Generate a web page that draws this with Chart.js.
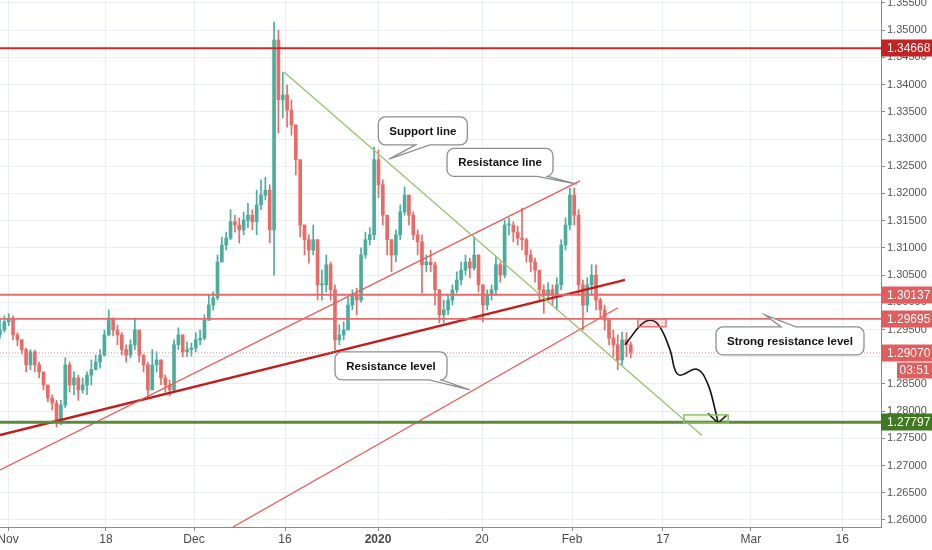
<!DOCTYPE html>
<html>
<head>
<meta charset="utf-8">
<script src="https://cdn.jsdelivr.net/npm/chart.js@4/dist/chart.umd.min.js"></script>
<style>
  html, body { margin: 0; padding: 0; background: #ffffff; }
  canvas { display: block; }
</style>
</head>
<body>
<canvas id="GBP_Chart" width="932" height="550"></canvas>
<script>
// GBPUSD, 12h bars, x = trading days from left edge
const barStep = 0.5;
const firstOpen = 1.2940;

const closes = [
	1.2949, 1.2964, 1.2971, 1.2940, 1.2931, 1.2913, 1.2885, 1.2909, 1.2885, 1.2872,
	1.2848, 1.2824, 1.2815, 1.2784, 1.2811, 1.2885, 1.2848, 1.2861, 1.2839, 1.2848,
	1.2866, 1.2876, 1.2890, 1.2903, 1.2940, 1.2971, 1.2949, 1.2940, 1.2913, 1.2903,
	1.2922, 1.2949, 1.2903, 1.2885, 1.2839, 1.2885, 1.2894, 1.2861, 1.2848, 1.2839,
	1.2922, 1.2940, 1.2909, 1.2913, 1.2916, 1.2931, 1.2934, 1.2967, 1.2995, 1.3008,
	1.3074, 1.3105, 1.3118, 1.3148, 1.3142, 1.3133, 1.3151, 1.3160, 1.3148, 1.3179,
	1.3197, 1.3206, 1.3133, 1.3482, 1.3372, 1.3381, 1.3353, 1.3326, 1.3262, 1.3142,
	1.3115, 1.3096, 1.3115, 1.3032, 1.3032, 1.3069, 1.3023, 1.2931, 1.2940, 1.2949,
	1.2995, 1.3013, 1.3004, 1.3087, 1.3115, 1.3124, 1.3262, 1.3216, 1.3160, 1.3115,
	1.3087, 1.3124, 1.3166, 1.3197, 1.3160, 1.3124, 1.3111, 1.3069, 1.3074, 1.3069,
	1.3023, 1.2977, 1.2986, 1.3004, 1.3023, 1.3041, 1.3059, 1.3074, 1.3063, 1.3087,
	1.3032, 1.2995, 1.3013, 1.3023, 1.3069, 1.3050, 1.3142, 1.3142, 1.3129, 1.3118,
	1.3115, 1.3087, 1.3074, 1.3059, 1.3023, 1.3013, 1.3023, 1.3013, 1.3032, 1.3105,
	1.3142, 1.3197, 1.3160, 1.3032, 1.2995, 1.3032, 1.3050, 1.3004, 1.2986, 1.2967,
	1.2934, 1.2922, 1.2894, 1.2931, 1.2922, 1.2907
];

const highs = [
	1.2971, 1.2975, 1.2979, 1.2975, 1.2944, 1.2931, 1.2916, 1.2913, 1.2912, 1.2890,
	1.2872, 1.2848, 1.2830, 1.2820, 1.2820, 1.2898, 1.2890, 1.2872, 1.2866, 1.2861,
	1.2872, 1.2894, 1.2903, 1.2913, 1.2949, 1.2986, 1.2971, 1.2958, 1.2944, 1.2922,
	1.2931, 1.2971, 1.2949, 1.2903, 1.2890, 1.2913, 1.2909, 1.2894, 1.2866, 1.2857,
	1.2931, 1.2953, 1.2940, 1.2927, 1.2925, 1.2944, 1.2949, 1.2977, 1.3013, 1.3019,
	1.3087, 1.3120, 1.3129, 1.3170, 1.3160, 1.3155, 1.3166, 1.3182, 1.3170, 1.3206,
	1.3225, 1.3230, 1.3216, 1.3515, 1.3500, 1.3423, 1.3399, 1.3372, 1.3326, 1.3262,
	1.3142, 1.3124, 1.3142, 1.3115, 1.3059, 1.3087, 1.3074, 1.3032, 1.2958, 1.2964,
	1.3008, 1.3023, 1.3026, 1.3100, 1.3129, 1.3137, 1.3285, 1.3280, 1.3225, 1.3160,
	1.3115, 1.3133, 1.3179, 1.3212, 1.3197, 1.3166, 1.3133, 1.3124, 1.3087, 1.3096,
	1.3074, 1.3023, 1.3004, 1.3013, 1.3032, 1.3056, 1.3074, 1.3087, 1.3081, 1.3120,
	1.3087, 1.3032, 1.3023, 1.3032, 1.3083, 1.3074, 1.3151, 1.3155, 1.3148, 1.3140,
	1.3173, 1.3118, 1.3096, 1.3081, 1.3059, 1.3032, 1.3036, 1.3032, 1.3045, 1.3115,
	1.3155, 1.3210, 1.3210, 1.3170, 1.3041, 1.3045, 1.3069, 1.3069, 1.3008, 1.2995,
	1.2971, 1.2949, 1.2940, 1.2945, 1.2944, 1.2927
];

const lows = [
	1.2934, 1.2945, 1.2957, 1.2931, 1.2920, 1.2905, 1.2872, 1.2876, 1.2872, 1.2861,
	1.2839, 1.2817, 1.2802, 1.2771, 1.2775, 1.2806, 1.2835, 1.2830, 1.2820, 1.2833,
	1.2830, 1.2848, 1.2876, 1.2879, 1.2901, 1.2938, 1.2938, 1.2922, 1.2903, 1.2890,
	1.2898, 1.2913, 1.2890, 1.2872, 1.2826, 1.2839, 1.2872, 1.2848, 1.2835, 1.2828,
	1.2835, 1.2913, 1.2900, 1.2900, 1.2901, 1.2909, 1.2922, 1.2931, 1.2967, 1.2986,
	1.3004, 1.3074, 1.3096, 1.3115, 1.3129, 1.3109, 1.3124, 1.3137, 1.3133, 1.3124,
	1.3170, 1.3188, 1.3109, 1.3050, 1.3311, 1.3339, 1.3322, 1.3307, 1.3234, 1.3120,
	1.3087, 1.3072, 1.3087, 1.3004, 1.3004, 1.3019, 1.3004, 1.2913, 1.2922, 1.2931,
	1.2949, 1.2986, 1.2977, 1.3000, 1.3081, 1.3105, 1.3115, 1.3192, 1.3142, 1.3087,
	1.3056, 1.3074, 1.3115, 1.3160, 1.3142, 1.3115, 1.3087, 1.3017, 1.3056, 1.3056,
	1.2995, 1.2962, 1.2962, 1.2977, 1.2995, 1.3017, 1.3032, 1.3050, 1.3045, 1.3059,
	1.3019, 1.2964, 1.2986, 1.3004, 1.3013, 1.3037, 1.3045, 1.3124, 1.3111, 1.3105,
	1.3096, 1.3074, 1.3056, 1.3037, 1.3004, 1.2980, 1.3004, 1.2995, 1.2986, 1.3023,
	1.3096, 1.3133, 1.3142, 1.3013, 1.2949, 1.2982, 1.3013, 1.2986, 1.2971, 1.2949,
	1.2922, 1.2900, 1.2876, 1.2885, 1.2900, 1.2898
];

const opens = closes.map((c, i) => i ? closes[i - 1] : firstOpen);
const barTimes = closes.map((c, i) => i * barStep);

// axes
const timeMax = 101.26;
const priceMin = 1.2587;
const priceMax = 1.35555;
const priceTicks = [1.26, 1.265, 1.27, 1.275, 1.28, 1.285, 1.29, 1.295, 1.30, 1.305,
	1.31, 1.315, 1.32, 1.325, 1.33, 1.335, 1.34, 1.345, 1.35, 1.355];
const timeTicks = [0.92, 12.18, 22.3, 32.76, 43.45, 55.4, 65.75, 76.2, 86.3, 96.8];
const timeLabels = ['Nov', '18', 'Dec', '16', '2020', '20', 'Feb', '17', 'Mar', '16'];

// drawn levels
const topLevel = 1.34668;
const upperLevel = 1.30137;
const strongLevel = 1.29695;
const lastPrice = 1.29070;
const targetLevel = 1.27797;
const countdown = '03:51';

// trend lines [time, price]
const supportLine = [[32.64, 1.3423], [80.69, 1.2755]];
const resistanceLine = [[0, 1.2692], [66.67, 1.3223]];
const boldLine = [[0, 1.2756], [71.84, 1.3041]];
const channelLine = [[26.78, 1.2587], [71.03, 1.2990]];

// projected path
const pathTimes = [71.84, 74.1, 75.5, 77.0, 77.6, 78.2, 80.1, 81.3, 82.2, 82.53];
const pathPrices = [1.2922, 1.2964, 1.2962, 1.2913, 1.2875, 1.2866, 1.2877, 1.2852, 1.2802, 1.2778];
const headTimes = [81.38, 82.53, 83.56];
const headPrices = [1.2796, 1.2778, 1.2793];

// zones [t1, p1, t2, p2]
const sellZone = [73.3, 1.2969, 76.55, 1.2955];
const targetZone = [78.6, 1.2793, 83.7, 1.2778];

// callouts: text, box centre [t, p], tail tip [t, p]
const calloutTexts = ['Support line', 'Resistance line', 'Resistance level', 'Strong resistance level'];
const calloutCentres = [[48.6, 1.3315], [57.47, 1.3257], [44.94, 1.2883], [90.8, 1.2929]];
const calloutTips = [[44.7, 1.3263], [66.3, 1.3217], [54.0, 1.2839], [87.9, 1.2977]];
const calloutTails = [[0.42, 0.58], [0.85, 0.95], [0.84, 0.95], [0.44, 0.54]];

const UP = '#4aae9f';
const DOWN = '#ec6a66';
const FONT = "'Liberation Sans', Arial, sans-serif";

function pts(arr) { return arr.map(p => ({ x: p[0], y: p[1] })); }
function hline(v) { return [{ x: 0, y: v }, { x: timeMax, y: v }]; }
function candleColor(ctx) {
	const i = ctx.dataIndex;
	if (i === undefined) return UP;
	return closes[i] >= opens[i] ? UP : DOWN;
}

function calloutPath(ctx, x, y, w, h, r, side, b1, b2, tx, ty) {
	ctx.beginPath();
	ctx.moveTo(x + r, y);
	if (side === 'top') { ctx.lineTo(b1, y); ctx.lineTo(tx, ty); ctx.lineTo(b2, y); }
	ctx.lineTo(x + w - r, y);
	ctx.arcTo(x + w, y, x + w, y + r, r);
	ctx.lineTo(x + w, y + h - r);
	ctx.arcTo(x + w, y + h, x + w - r, y + h, r);
	if (side === 'bottom') { ctx.lineTo(b2, y + h); ctx.lineTo(tx, ty); ctx.lineTo(b1, y + h); }
	ctx.lineTo(x + r, y + h);
	ctx.arcTo(x, y + h, x, y + h - r, r);
	ctx.lineTo(x, y + r);
	ctx.arcTo(x, y, x + r, y, r);
	ctx.closePath();
}

const overlayPlugin = {
	id: 'overlay',
	afterDatasetsDraw(chart) {
		const ctx = chart.ctx;
		const xs = chart.scales.x, ys = chart.scales.y;
		const area = chart.chartArea;

		ctx.save();
		ctx.beginPath();
		ctx.rect(area.left, area.top, area.right - area.left, area.bottom - area.top);
		ctx.clip();

		// zones
		[[sellZone, 'rgba(239,83,80,0.18)', '#e57373'], [targetZone, 'rgba(139,195,74,0.12)', '#8fc46a']].forEach(z => {
			const r = z[0];
			const x1 = xs.getPixelForValue(r[0]), y1 = ys.getPixelForValue(r[1]);
			const x2 = xs.getPixelForValue(r[2]), y2 = ys.getPixelForValue(r[3]);
			ctx.fillStyle = z[1];
			ctx.fillRect(x1, y1, x2 - x1, y2 - y1);
			ctx.strokeStyle = z[2];
			ctx.lineWidth = 1.5;
			ctx.strokeRect(x1, y1, x2 - x1, y2 - y1);
		});

		// callouts
		ctx.font = "bold 11.5px " + FONT;
		calloutTexts.forEach((txt, i) => {
			const cx = xs.getPixelForValue(calloutCentres[i][0]);
			const cy = ys.getPixelForValue(calloutCentres[i][1]);
			const tx = xs.getPixelForValue(calloutTips[i][0]);
			const ty = ys.getPixelForValue(calloutTips[i][1]);
			const w = Math.round(ctx.measureText(txt).width + 22);
			const h = 28;
			const x = cx - w / 2, y = cy - h / 2;
			const side = ty > y + h ? 'bottom' : 'top';
			const b1 = x + w * calloutTails[i][0], b2 = x + w * calloutTails[i][1];
			calloutPath(ctx, x, y, w, h, 7, side, b1, b2, tx, ty);
			ctx.fillStyle = '#ffffff';
			ctx.fill();
			ctx.strokeStyle = '#8f8f8f';
			ctx.lineWidth = 1.3;
			ctx.stroke();
			ctx.fillStyle = '#131313';
			ctx.textAlign = 'center';
			ctx.textBaseline = 'middle';
			ctx.fillText(txt, cx, cy + 0.5);
		});
		ctx.restore();
	},
	afterDraw(chart) {
		const ctx = chart.ctx;
		const ys = chart.scales.y;
		const area = chart.chartArea;
		const left = area.right;
		const right = chart.width;
		const marks = [
			[topLevel, '#c62222'],
			[upperLevel, '#e25d5d'],
			[strongLevel, '#e25d5d'],
			[lastPrice, '#e25d5d'],
			[targetLevel, '#3f7a22']
		];
		ctx.save();
		ctx.font = "12px " + FONT;
		ctx.textBaseline = 'middle';
		marks.forEach(m => {
			const py = Math.round(ys.getPixelForValue(m[0]));
			ctx.fillStyle = m[1];
			ctx.fillRect(left, py - 8.5, right - left, 17);
			ctx.fillStyle = '#ffffff';
			ctx.textAlign = 'left';
			ctx.fillText(m[0].toFixed(5), left + 6, py + 0.5);
		});
		const py = Math.round(ys.getPixelForValue(lastPrice));
		ctx.fillStyle = '#e25d5d';
		ctx.fillRect(right - 35, py + 9.5, 35, 16);
		ctx.fillStyle = '#ffffff';
		ctx.textAlign = 'center';
		ctx.fillText(countdown, right - 17.5, py + 18);
		ctx.restore();
	}
};

const lineBase = { type: 'line', pointRadius: 0, fill: false, tension: 0, order: 2 };

new Chart(document.getElementById('GBP_Chart').getContext('2d'), {
	type: 'bar',
	data: {
		datasets: [
			{
				// wicks
				data: barTimes.map((t, i) => ({ x: t, y: [lows[i], highs[i]] })),
				backgroundColor: candleColor,
				barThickness: 1,
				grouped: false,
				borderWidth: 0,
				order: 10,
			},
			{
				// bodies
				data: barTimes.map((t, i) => ({ x: t, y: [opens[i], closes[i]] })),
				backgroundColor: candleColor,
				barThickness: 3,
				minBarLength: 1,
				grouped: false,
				borderWidth: 0,
				order: 9,
			},
			Object.assign({}, lineBase, { data: hline(topLevel), borderColor: '#d02a2a', borderWidth: 2 }),
			Object.assign({}, lineBase, { data: hline(upperLevel), borderColor: '#e36b6b', borderWidth: 2 }),
			Object.assign({}, lineBase, { data: hline(strongLevel), borderColor: '#e36b6b', borderWidth: 1.6 }),
			Object.assign({}, lineBase, { data: hline(lastPrice), borderColor: '#ee8a8a', borderWidth: 1, borderDash: [1, 2] }),
			Object.assign({}, lineBase, { data: hline(targetLevel), borderColor: '#5a8a3a', borderWidth: 3 }),
			Object.assign({}, lineBase, { data: pts(supportLine), borderColor: '#97c46a', borderWidth: 1.3 }),
			Object.assign({}, lineBase, { data: pts(resistanceLine), borderColor: '#eb5a55', borderWidth: 1.3 }),
			Object.assign({}, lineBase, { data: pts(boldLine), borderColor: '#c41c1c', borderWidth: 2.3 }),
			Object.assign({}, lineBase, { data: pts(channelLine), borderColor: '#eb5a55', borderWidth: 1.3 }),
			Object.assign({}, lineBase, {
				data: pathTimes.map((t, i) => ({ x: t, y: pathPrices[i] })),
				borderColor: '#111111', borderWidth: 1.6, tension: 0.4, order: 1
			}),
			Object.assign({}, lineBase, {
				data: headTimes.map((t, i) => ({ x: t, y: headPrices[i] })),
				borderColor: '#111111', borderWidth: 1.6, order: 1
			}),
		]
	},
	options: {
		responsive: false,
		devicePixelRatio: 1,
		animation: false,
		events: [],
		layout: { padding: 0 },
		plugins: {
			legend: { display: false },
			tooltip: { enabled: false },
		},
		scales: {
			x: {
				type: 'linear',
				min: 0,
				max: timeMax,
				offset: false,
				grid: { color: '#eaeef2', offset: false, tickLength: 4, tickColor: '#8a8a8a' },
				border: { color: '#8a8a8a' },
				afterBuildTicks: axis => { axis.ticks = timeTicks.map(v => ({ value: v })); },
				afterFit: axis => {
					axis.height = 23;
					axis.paddingLeft = 0; axis.paddingRight = 0;
				},
				ticks: {
					autoSkip: false,
					maxRotation: 0,
					padding: 1,
					color: '#4a4a4a',
					font: ctx => ({ family: FONT, size: 12, weight: (ctx.tick && ctx.index === 4) ? 'bold' : 'normal' }),
					callback: (v, i) => timeLabels[i],
				}
			},
			y: {
				position: 'right',
				min: priceMin,
				max: priceMax,
				grid: { color: '#eaeef2', tickLength: 4, tickColor: '#8a8a8a' },
				border: { color: '#8a8a8a' },
				afterBuildTicks: axis => { axis.ticks = priceTicks.map(v => ({ value: v })); },
				afterFit: axis => {
					axis.width = 51;
					axis.paddingTop = 0; axis.paddingBottom = 0;
				},
				ticks: {
					padding: 2,
					color: '#555555',
					font: { family: FONT, size: 11 },
					callback: v => v.toFixed(5),
				}
			}
		}
	},
	plugins: [overlayPlugin]
});
</script>
</body>
</html>
